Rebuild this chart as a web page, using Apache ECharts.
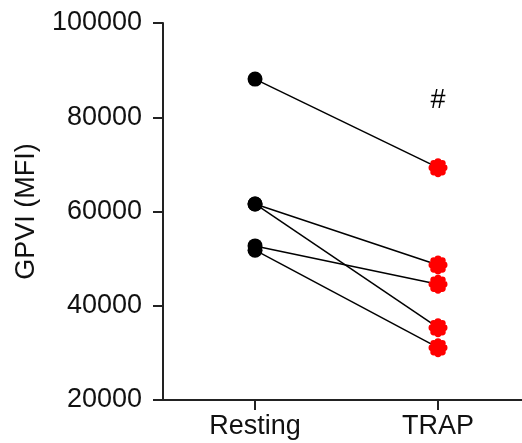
<!DOCTYPE html>
<html lang="en">
<head>
    <meta charset="UTF-8">
    <title>GPVI</title>
    <style>
        html, body { margin: 0; padding: 0; background: #fff; }
        .chart { width: 522px; height: 443px; }
    </style>
</head>
<body>
<div class="chart" id="showData"></div>
<script src="https://cdn.jsdelivr.net/npm/echarts@6/dist/echarts.min.js"></script>
<script>
    var categories = ['Resting', 'TRAP'];
    var resting = [88100, 61600, 61600, 52700, 51800];
    var trap = [69300, 48650, 35350, 44550, 31100];
    var yTicks = [20000, 40000, 60000, 80000, 100000];
    var markText = '#';
    var markValue = 83600;

    // red "flower" marker: union of small circles round a middle one
    function circ(cx, cy, r) {
        return 'M' + (cx + r) + ' ' + cy +
            ' A' + r + ' ' + r + ' 0 1 0 ' + (cx - r) + ' ' + cy +
            ' A' + r + ' ' + r + ' 0 1 0 ' + (cx + r) + ' ' + cy + ' Z ';
    }
    var flower = circ(0, 0, 6.5);
    for (var k = 0; k < 8; k++) {
        var a = k * Math.PI / 4;
        flower += circ(+(6.2 * Math.cos(a)).toFixed(3), +(6.2 * Math.sin(a)).toFixed(3), 3.6);
    }
    var flowerSymbol = 'path://' + flower;

    var font = 'Liberation Sans, Arial, sans-serif';

    // x positions: category index 0 and 1 on a value axis
    var series = [];
    for (var i = 0; i < resting.length; i++) {
        series.push({
            type: 'line',
            data: [
                {value: [0, resting[i]], symbol: 'circle', symbolSize: 15, itemStyle: {color: '#000'}},
                {value: [1, trap[i]], symbol: flowerSymbol, symbolSize: 19, itemStyle: {color: '#ff0000'}}
            ],
            lineStyle: {color: '#000', width: 1.5},
            showAllSymbol: true,
            animation: false,
            z: 2
        });
    }
    series[0].markPoint = {
        symbol: 'circle',
        symbolSize: 1,
        itemStyle: {color: 'rgba(0,0,0,0)'},
        silent: true,
        data: [{coord: [1, markValue]}],
        label: {
            show: true,
            formatter: markText,
            position: 'inside',
            color: '#000',
            fontSize: 27,
            fontFamily: font
        }
    };

    var mychart = echarts.init(document.getElementById('showData'));
    var option = {
        backgroundColor: '#fff',
        animation: false,
        grid: {
            left: 163,
            right: 0,
            top: 23,
            bottom: 43,
            containLabel: false
        },
        xAxis: {
            type: 'value',
            min: -0.503,
            max: 1.459,
            axisLine: {onZero: false, lineStyle: {color: '#222', width: 2}},
            axisTick: {show: true, length: 10, customValues: [0, 1], lineStyle: {color: '#222', width: 2}},
            axisLabel: {
                color: '#111',
                fontSize: 27,
                margin: 13,
                fontFamily: font,
                customValues: [0, 1],
                formatter: function (v) { return categories[Math.round(v)]; }
            },
            splitLine: {show: false}
        },
        yAxis: {
            type: 'value',
            min: yTicks[0],
            max: yTicks[yTicks.length - 1],
            interval: yTicks[1] - yTicks[0],
            name: 'GPVI (MFI)',
            nameLocation: 'middle',
            nameGap: 123,
            nameTextStyle: {
                color: '#111',
                fontSize: 27,
                fontFamily: font
            },
            axisLine: {show: true, onZero: false, lineStyle: {color: '#222', width: 2}},
            axisTick: {show: true, length: 10, lineStyle: {color: '#222', width: 2}},
            axisLabel: {
                color: '#111',
                fontSize: 27,
                margin: 21,
                fontFamily: font,
                formatter: function (v) { return String(v); }
            },
            splitLine: {show: false}
        },
        series: series
    };
    mychart.setOption(option);
</script>
</body>
</html>
